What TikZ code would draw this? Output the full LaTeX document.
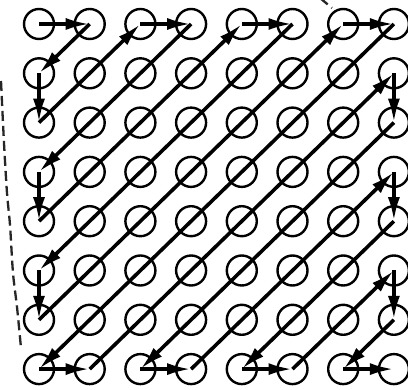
\documentclass[tikz,border=0pt]{standalone}
\usetikzlibrary{arrows.meta}
\begin{document}
\begin{tikzpicture}[x=1pt,y=-1pt,
  dot/.style={draw=black,circle,line width=2.4pt,minimum size=30pt,inner sep=0pt},
  seg/.style={line width=3.6pt,-{Latex[length=24pt,width=12pt]},shorten >=0pt},
  bound/.style={dash pattern=on 10pt off 5pt,line width=2.3pt,draw=black!85}]
\useasboundingbox (0,0) rectangle (408,390);
\clip (0,0) rectangle (408,390);
\foreach \i in {0,...,7}{
  \foreach \j in {0,...,7}{
    \node[dot] (c-\i-\j) at ({39+50.7*\i},{24+49.3*\j}) {};
  }
}
\foreach \a/\b/\c/\d in {0/0/1/0, 1/0/0/1, 0/1/0/2, 0/2/2/0, 2/0/3/0, 3/0/0/3,
  0/3/0/4, 0/4/4/0, 4/0/5/0, 5/0/0/5, 0/5/0/6, 0/6/6/0, 6/0/7/0, 7/0/0/7,
  0/7/1/7, 1/7/7/1, 7/1/7/2, 7/2/2/7, 2/7/3/7, 3/7/7/3, 7/3/7/4, 7/4/4/7,
  4/7/5/7, 5/7/7/5, 7/5/7/6, 7/6/6/7, 6/7/7/7}{
  \draw[seg] (c-\a-\b.center) -- (c-\c-\d.center);
}
\draw[bound] plot[smooth] coordinates {(1,81) (4,143) (7,193) (10,225) (13,273) (17,307) (21,348)};
\draw[bound] (320,-2) -- (332,8);
\end{tikzpicture}
\end{document}
